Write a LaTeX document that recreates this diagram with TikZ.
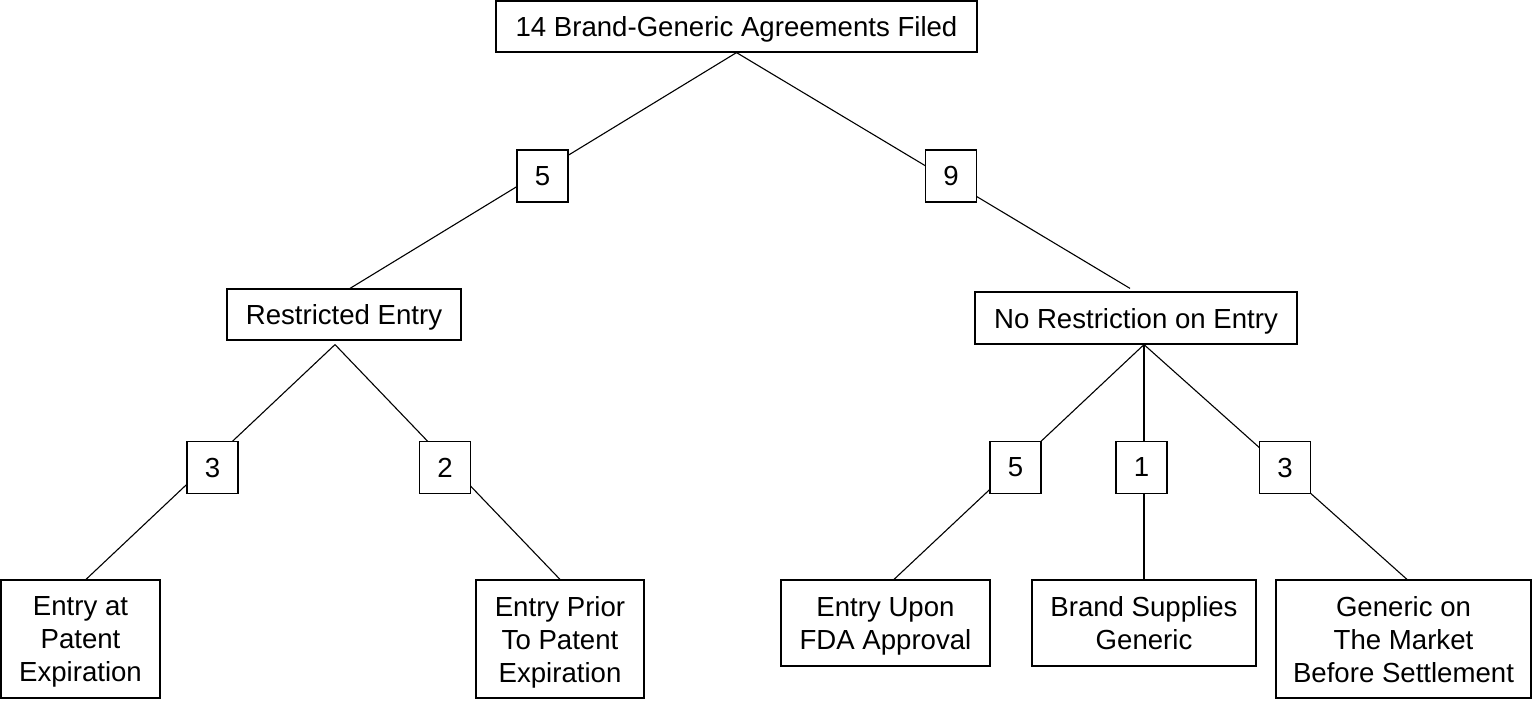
\documentclass[tikz,border=0pt]{standalone}
\usepackage{fontspec}
\setmainfont{Liberation Sans}
\usetikzlibrary{calc}
\begin{document}
\begin{tikzpicture}[x=1pt,y=-1pt,
  box/.style={draw, line width=1.2pt, fill=white, inner sep=0pt, align=center, text depth=0pt, font=\fontsize{27.6}{33}\selectfont},
  countbox/.style={box, minimum width=51pt, minimum height=52pt},
  link/.style={line width=1.1pt}]
\useasboundingbox (0,0) rectangle (1533,701);
% main nodes
\node[box, minimum width=481pt, minimum height=51pt] (top) at (736.5,26.5) {14 Brand-Generic Agreements Filed};
\node[box, minimum width=234pt, minimum height=51pt] (restricted) at (344,314.5) {Restricted Entry};
\node[box, minimum width=322pt, minimum height=52pt] (norestr) at (1136,318) {No Restriction on Entry};
\node[box, minimum width=159pt, minimum height=118pt] (eap) at (80.5,639) {Entry at\\Patent\\Expiration};
\node[box, minimum width=168pt, minimum height=118pt] (epp) at (560,639) {Entry Prior\\To Patent\\Expiration};
\node[box, minimum width=209pt, minimum height=86pt] (efda) at (885.5,623) {Entry Upon\\FDA Approval};
\node[box, minimum width=224pt, minimum height=86pt] (bsg) at (1144,623) {Brand Supplies\\Generic};
\node[box, minimum width=255pt, minimum height=118pt] (gmbs) at (1403.5,639) {Generic on\\The Market\\Before Settlement};
% connector origins
\coordinate (rs) at ($(restricted.south)+(-9,4)$);
\coordinate (ns) at ($(norestr.south)+(8,0)$);
% connectors
\draw[link] (top.south) -- ($(restricted.north)+(6,0)$);
\draw[link] (top.south) -- ($(norestr.north)+(-6,-3)$);
\draw[link] (rs) -- ($(eap.north)+(5.5,0)$);
\draw[link] (rs) -- (epp.north);
\draw[link] (ns) -- ($(efda.north)+(8.5,0)$);
\draw[link] (ns) -- (bsg.north);
\draw[link] (ns) -- ($(gmbs.north)+(3.5,0)$);
% count boxes
\node[countbox] (c5) at (542.5,176) {5};
\node[countbox] (c9) at (951,176) {9};
\node[countbox] (c3a) at (212.5,467.5) {3};
\node[countbox] (c2) at (445,467.5) {2};
\node[countbox] (c5b) at (1015.5,467.5) {5};
\node[countbox] (c1) at (1141.5,467.5) {1};
\node[countbox] (c3b) at (1285,467.5) {3};
\end{tikzpicture}
\end{document}
